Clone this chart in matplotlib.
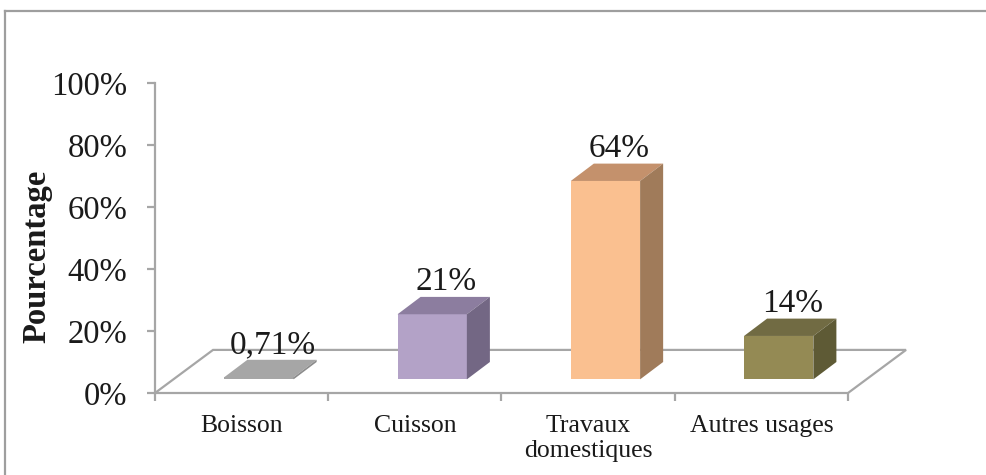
import matplotlib
matplotlib.use("Agg")
import matplotlib.pyplot as plt
from matplotlib.patches import Polygon
from matplotlib.lines import Line2D
import numpy as np

categories = ["Boisson", "Cuisson", "Travaux\ndomestiques", "Autres usages"]
values = [0.71, 21, 64, 14]
value_labels = ["0,71%", "21%", "64%", "14%"]
yticks = [0, 20, 40, 60, 80, 100]
ytick_labels = ["0%", "20%", "40%", "60%", "80%", "100%"]

front_colors = ["#A6A6A6", "#B3A2C7", "#FAC090", "#948A54"]
top_colors = ["#A6A6A6", "#8C7D9F", "#C4916C", "#716B43"]
side_colors = ["#8C8C8C", "#736784", "#A07B5A", "#5E5A35"]
grid_color = "#A6A6A6"

plt.rcParams["font.family"] = ["Liberation Serif", "DejaVu Serif"]

W, H = 987, 475
fig = plt.figure(figsize=(W / 100, H / 100), dpi=100)
ax = fig.add_axes([155 / W, (H - 393) / H, 693 / W, 310 / H])
ax.set_xlim(-0.5, 3.5)
ax.set_ylim(0, 100)

# 3D geometry (data units)
fdx, fdy = 0.335, 13.9      # floor depth
sx, bw = 0.10, 0.40         # bar front shift, width
bdx, bdy = 0.133, 5.6       # bar depth
b0 = 4.4                    # bar base height on floor

floor = Polygon([(-0.5, 0), (3.5, 0), (3.5 + fdx, fdy), (-0.5 + fdx, fdy)],
                closed=True, facecolor="white", edgecolor=grid_color,
                linewidth=1.6, zorder=1, clip_on=False)
ax.add_patch(floor)

x = np.arange(len(values))
ax.bar(x + sx, values, width=bw, bottom=b0, color=front_colors,
       linewidth=0, zorder=3)
for i, v in enumerate(values):
    x0 = i + sx - bw / 2
    x1 = i + sx + bw / 2
    top = Polygon([(x0, b0 + v), (x1, b0 + v), (x1 + bdx, b0 + v + bdy),
                   (x0 + bdx, b0 + v + bdy)], closed=True,
                  facecolor=top_colors[i], edgecolor="none", zorder=3)
    side = Polygon([(x1, b0), (x1 + bdx, b0 + bdy), (x1 + bdx, b0 + v + bdy),
                    (x1, b0 + v)], closed=True,
                   facecolor=side_colors[i], edgecolor="none", zorder=3)
    ax.add_patch(top)
    ax.add_patch(side)
    ax.text(i + 0.18, v + 14.8, value_labels[i], ha="center", va="center",
            fontsize=24, color="#1a1a1a", zorder=2)

for s in ["top", "right", "bottom"]:
    ax.spines[s].set_visible(False)
ax.spines["left"].set_color(grid_color)
ax.spines["left"].set_linewidth(1.6)
ax.spines["left"].set_zorder(0.5)

ax.set_yticks(yticks)
ax.set_yticklabels(ytick_labels, fontsize=23.5, color="#1a1a1a")
ax.tick_params(axis="y", direction="out", length=6, width=1.6,
               color=grid_color, pad=14)

ax.set_xticks(x)
ax.set_xticklabels(categories, fontsize=18.5, color="#1a1a1a", linespacing=1.15)
ax.tick_params(axis="x", length=0, pad=16)
ax.set_xticks(np.arange(-0.5, len(values), 1.0), minor=True)
ax.tick_params(axis="x", which="minor", direction="out", length=6,
               width=1.6, color=grid_color)
ax.patch.set_visible(False)

fig.text(37 / W, 1 - 256 / H, "Pourcentage", rotation=90, ha="center",
         va="center", fontsize=23.5, fontweight="bold", color="#1a1a1a")

# outer chart frame
fig.add_artist(Line2D([5 / W, 5 / W], [0, 1 - 11 / H], color="#9E9E9E", lw=1.6))
fig.add_artist(Line2D([5 / W, 1], [1 - 11 / H, 1 - 11 / H], color="#9E9E9E", lw=1.6))

fig.savefig("out.png", dpi=100, facecolor="white")
